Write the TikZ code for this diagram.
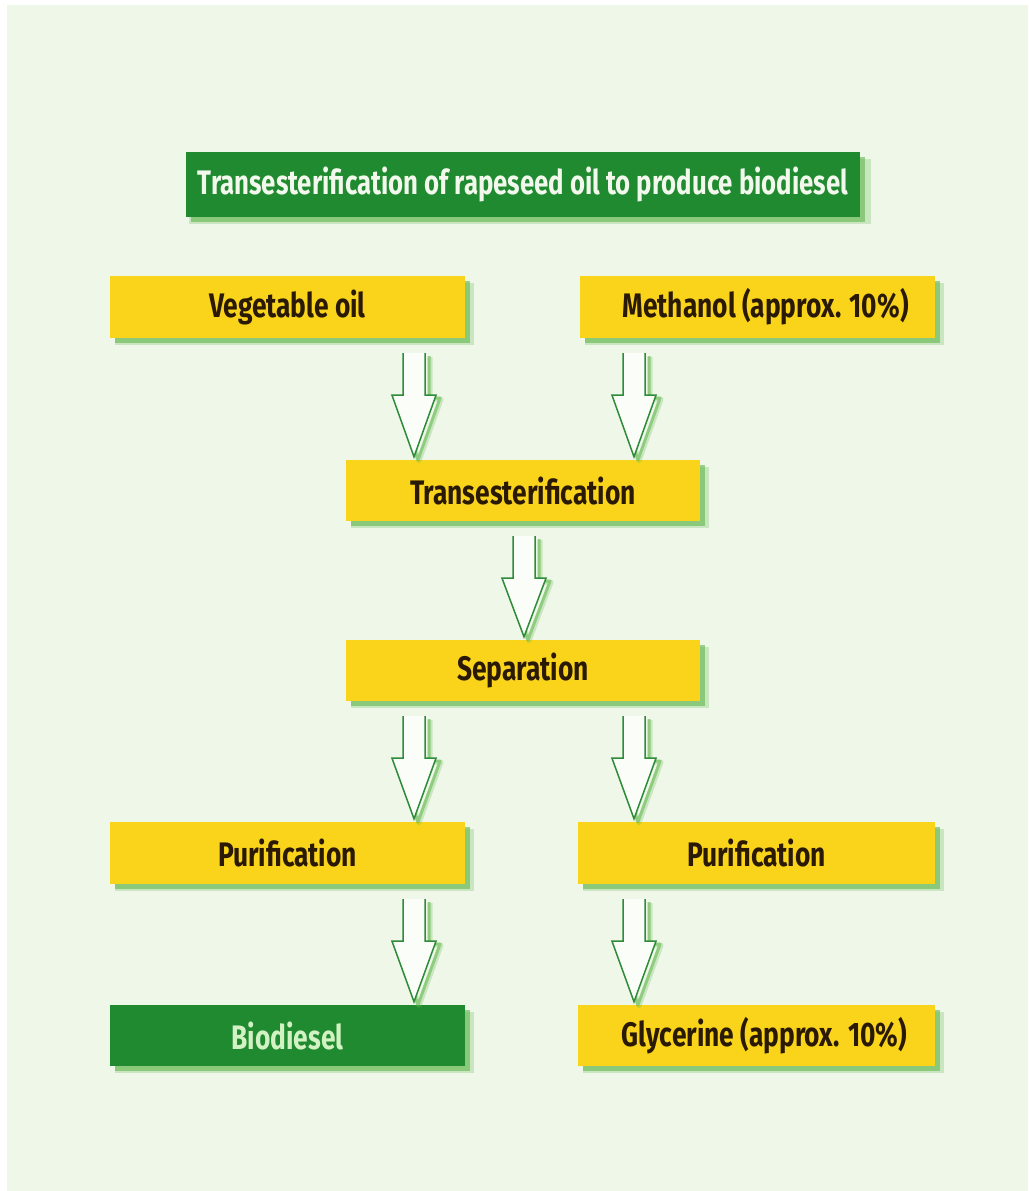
\documentclass[tikz,border=0pt]{standalone}
\usepackage{fontspec}
\setmainfont{Fira Sans}[FakeStretch=0.775]
\usetikzlibrary{shadows,calc}
\definecolor{bg}{HTML}{EEF7E8}
\definecolor{boxy}{HTML}{F9D41A}
\definecolor{boxg}{HTML}{1F8A2F}
\definecolor{shg}{HTML}{5FB74A}
\definecolor{txt}{HTML}{2A1A05}
\definecolor{arrg}{HTML}{2E8B3A}
\definecolor{titletxt}{HTML}{F2F8EC}
\definecolor{biotxt}{HTML}{D2F2C4}

\newcommand\flowarrow[3]{% from node, to node, x position
  \path (#3,0) coordinate (ax);
  \foreach \sx/\sy/\lw/\op in {5/-4/5/0.25, 4/-3/3/0.55}{
    \draw[shg, line width=\lw pt, opacity=\op, line join=round]
      let \p0=(ax), \p1=(#1.south), \p2=(#2.north) in
      (\x0-11pt+\sx pt,\y1-15pt+\sy pt) -- (\x0-11pt+\sx pt,\y1-57pt+\sy pt)
      -- (\x0-22pt+\sx pt,\y1-57pt+\sy pt) -- (\x0+\sx pt,\y2+3pt+\sy pt)
      -- (\x0+22pt+\sx pt,\y1-57pt+\sy pt) -- (\x0+11pt+\sx pt,\y1-57pt+\sy pt)
      -- (\x0+11pt+\sx pt,\y1-15pt+\sy pt);
  }
  \filldraw[fill=white!70!bg, draw=arrg, line width=1.5pt, line join=miter]
    let \p0=(ax), \p1=(#1.south), \p2=(#2.north) in
    (\x0-11pt,\y1-15pt) -- (\x0-11pt,\y1-57pt) -- (\x0-22pt,\y1-57pt)
    -- (\x0,\y2+3pt) -- (\x0+22pt,\y1-57pt) -- (\x0+11pt,\y1-57pt)
    -- (\x0+11pt,\y1-15pt);
}

\begin{document}
\begin{tikzpicture}[x=1pt,y=-1pt,
  box/.style={rectangle, inner sep=0pt, minimum width=355pt, minimum height=62pt,
    font=\fontsize{34}{34}\selectfont\bfseries,
    general shadow={fill=shg, opacity=.25, shadow xshift=7pt, shadow yshift=-7pt, shadow scale=1.012},
    general shadow={fill=shg, opacity=.6, shadow xshift=5pt, shadow yshift=-5pt}},
  ybox/.style={box, fill=boxy, text=txt},
  gbox/.style={box, fill=boxg},
]
\useasboundingbox (0,0) rectangle (1028,1191);
\fill[white] (0,0) rectangle (1028,1191);
\fill[bg] (7,5) rectangle (1028,1191);

\node[gbox, minimum width=674pt, minimum height=65pt, text=titletxt] (title) at (523,184.5)
  {\scalebox{0.977}[1]{Transesterification of rapeseed oil to produce biodiesel}};
\node[ybox] (veg) at (287.5,307) {Vegetable oil};
\node[ybox] (meth) at (757.5,307) {\hspace{16pt}Methanol (approx. 10\%)};
\node[ybox, minimum width=354pt, minimum height=61pt] (trans) at (523,490.5) {Transesterification};
\node[ybox, minimum width=354pt, minimum height=61pt] (sep) at (523,670.5) {Separation};
\node[ybox] (purl) at (287.5,853) {Purification};
\node[ybox, minimum width=357pt] (purr) at (756.5,853) {Purification};
\node[gbox, minimum height=61pt, text=biotxt] (bio) at (287.5,1035.5) {Biodiesel};
\node[ybox, minimum width=357pt, minimum height=61pt] (gly) at (756.5,1035.5) {\hspace{16pt}Glycerine (approx. 10\%)};

\flowarrow{veg}{trans}{414}
\flowarrow{meth}{trans}{634}
\flowarrow{trans}{sep}{524}
\flowarrow{sep}{purl}{414}
\flowarrow{sep}{purr}{634}
\flowarrow{purl}{bio}{414}
\flowarrow{purr}{gly}{634}
\end{tikzpicture}
\end{document}
